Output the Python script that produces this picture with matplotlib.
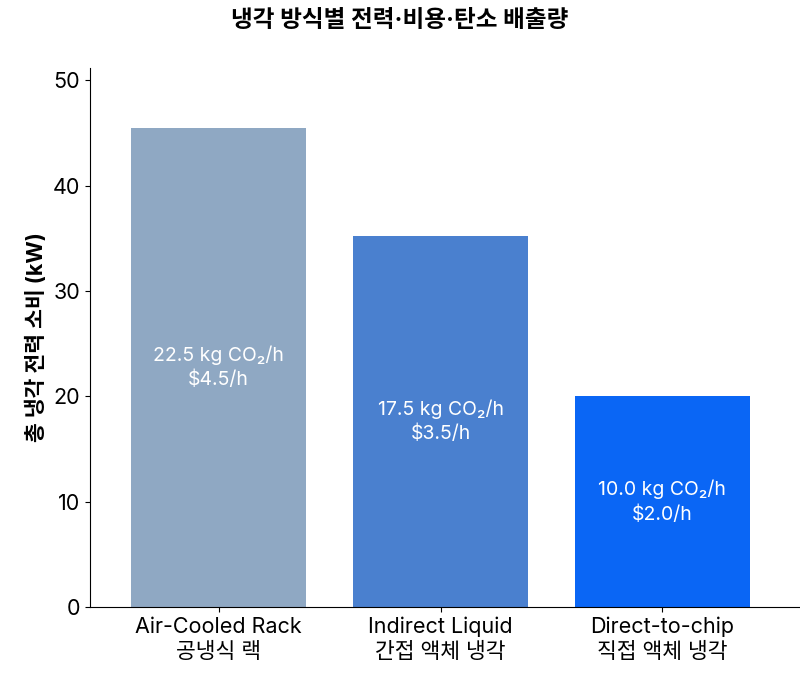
import matplotlib
matplotlib.use("Agg")
import matplotlib.pyplot as plt

plt.rcParams['font.family'] = ['Inter', 'Noto Sans CJK KR', 'DejaVu Sans']

categories = ["Air-Cooled Rack\n공냉식 랙", "Indirect Liquid\n간접 액체 냉각", "Direct-to-chip\n직접 액체 냉각"]
power_kw = [45.5, 35.2, 20.0]
co2 = ["22.5", "17.5", "10.0"]
cost = ["4.5", "3.5", "2.0"]
colors = ["#8fa8c3", "#4a80cf", "#0a66f5"]

fig = plt.figure(figsize=(8, 6.85), dpi=100)
ax = fig.add_axes([0.1125, 0.114, 0.8875, 0.787])
x = list(range(len(categories)))
ax.bar(x, power_kw, width=0.79, color=colors)
for i, v in enumerate(power_kw):
    ax.text(i, v / 2, f"{co2[i]} kg CO₂/h\n${cost[i]}/h", ha='center', va='center',
            color='white', fontsize=14, linespacing=1.4)
ax.set_xlim(-0.58, 2.62)
ax.set_ylim(0, 51.2)
ax.set_yticks([0, 10, 20, 30, 40, 50])
ax.set_xticks(x)
ax.set_xticklabels(categories, fontsize=15.5, linespacing=1.3)
ax.tick_params(axis='y', labelsize=15.5)
for s in ['top', 'right']:
    ax.spines[s].set_visible(False)
ax.set_ylabel("총 냉각 전력 소비 (kW)", fontsize=15.5, fontweight='bold')
fig.suptitle("냉각 방식별 전력·비용·탄소 배출량", fontsize=17, fontweight='bold', y=0.985)
fig.savefig("out.png", dpi=100)
